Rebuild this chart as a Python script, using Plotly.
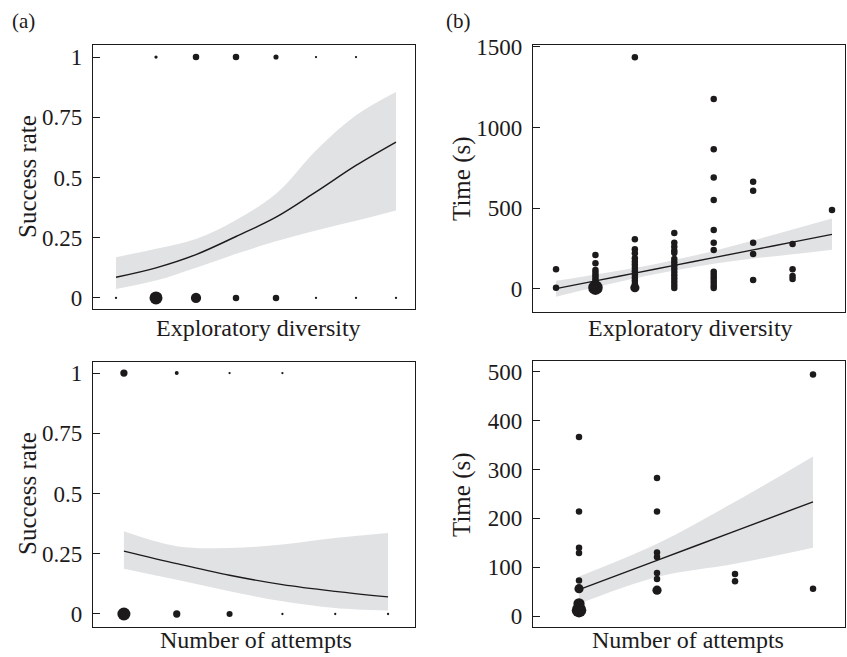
import numpy as np
import plotly.graph_objects as go
from plotly.subplots import make_subplots

# ---------------- data ----------------
# (a) top: success vs exploratory diversity
div_levels = [1, 2, 3, 4, 5, 6, 7, 8]
div_n_success = [0, 2, 8, 8, 5, 1, 1, 0]
div_n_fail = [1, 32, 20, 8, 8, 1, 1, 1]
div_fit = [0.086, 0.125, 0.18, 0.255, 0.335, 0.44, 0.55, 0.647]
div_lo = [0.037, 0.072, 0.125, 0.183, 0.235, 0.28, 0.32, 0.363]
div_hi = [0.169, 0.204, 0.245, 0.324, 0.432, 0.612, 0.758, 0.855]

# (a) bottom: success vs number of attempts
att_levels = [1, 2, 3, 4, 5, 6]
att_n_success = [10, 3, 1, 1, 0, 0]
att_n_fail = [32, 10, 7, 1, 1, 1]
att_fit = [0.261, 0.209, 0.161, 0.122, 0.094, 0.071]
att_lo = [0.188, 0.142, 0.094, 0.053, 0.025, 0.014]
att_hi = [0.343, 0.281, 0.274, 0.288, 0.315, 0.336]

# (b) top: time vs exploratory diversity  (x, time, n overlapping)
time_div_x = ([1, 1] +
              [2] * 10 +
              [3] * 14 +
              [4] * 15 +
              [5] * 14 +
              [6] * 5 +
              [7] * 4 +
              [8])
time_div_t = ([122, 8] +
              [211, 159, 118, 100, 85, 70, 55, 40, 28, 8] +
              [1436, 308, 246, 221, 190, 169, 150, 130, 110, 90, 70, 50, 30, 8] +
              [347, 287, 262, 236, 223, 185, 165, 145, 125, 105, 85, 65, 45, 25, 5] +
              [1178, 866, 690, 552, 366, 287, 242, 107, 90, 72, 55, 38, 20, 5] +
              [665, 609, 287, 217, 56] +
              [279, 122, 80, 62] +
              [490])
time_div_n = ([1, 1] +
              [1, 1, 1, 1, 1, 1, 1, 1, 1, 5] +
              [1] * 13 + [2] +
              [1] * 15 +
              [1] * 14 +
              [1] * 5 +
              [1] * 4 +
              [1])
time_div_levels = [1, 2, 3, 4, 5, 6, 7, 8]
time_div_fit = [2, 50, 98, 146, 194, 242, 290, 338]
time_div_lo = [-48, 10, 66, 114, 156, 188, 215, 243]
time_div_hi = [50, 90, 130, 180, 235, 300, 368, 436]

# (b) bottom: time vs number of attempts
time_att_x = [1, 1, 1, 1, 1, 1, 1, 1,
              2, 2, 2, 2, 2, 2, 2,
              3, 3,
              4, 4]
time_att_t = [367, 214, 140, 129, 73, 56, 25, 12,
              283, 214, 130, 121, 88, 76, 53,
              86, 71,
              495, 56]
time_att_n = [1, 1, 1, 1, 1, 2, 3, 5,
              1, 1, 1, 1, 1, 1, 2,
              1, 1,
              1, 1]
time_att_levels = [1, 2, 3, 4]
time_att_fit = [54, 114, 174, 234]
time_att_lo = [25, 80, 107, 140]
time_att_hi = [81, 148, 234, 327]

# ---------------- style ----------------
FONT = "Liberation Serif"
INK = "#1d1a1b"
BAND = "#e1e2e4"

fig = make_subplots(rows=2, cols=2)


def add_band(x, lo, hi, fit, row, col, shape):
    fig.add_trace(go.Scatter(x=x, y=lo, mode="lines", line=dict(width=0, shape=shape),
                             hoverinfo="skip", showlegend=False), row=row, col=col)
    fig.add_trace(go.Scatter(x=x, y=hi, mode="lines", line=dict(width=0, shape=shape),
                             fill="tonexty", fillcolor=BAND,
                             hoverinfo="skip", showlegend=False), row=row, col=col)
    fig.add_trace(go.Scatter(x=x, y=fit, mode="lines", line=dict(color=INK, width=1.4, shape=shape),
                             showlegend=False), row=row, col=col)


def add_counts(levels, n_s, n_f, row, col):
    xs, ys, ss = [], [], []
    for xv, n in zip(levels, n_s):
        if n > 0:
            xs.append(xv); ys.append(1); ss.append(2.3 * np.sqrt(n))
    for xv, n in zip(levels, n_f):
        if n > 0:
            xs.append(xv); ys.append(0); ss.append(2.3 * np.sqrt(n))
    fig.add_trace(go.Scatter(x=xs, y=ys, mode="markers",
                             marker=dict(color=INK, size=ss, opacity=1, line=dict(width=0)),
                             showlegend=False), row=row, col=col)


def add_points(x, t, n, row, col):
    fig.add_trace(go.Scatter(x=x, y=t, mode="markers",
                             marker=dict(color=INK, size=[6.5 * np.sqrt(k) for k in n],
                                         opacity=1, line=dict(width=0)),
                             showlegend=False), row=row, col=col)


add_band(div_levels, div_lo, div_hi, div_fit, 1, 1, "spline")
add_counts(div_levels, div_n_success, div_n_fail, 1, 1)

add_band(time_div_levels, time_div_lo, time_div_hi, time_div_fit, 1, 2, "spline")
add_points(time_div_x, time_div_t, time_div_n, 1, 2)

add_band(att_levels, att_lo, att_hi, att_fit, 2, 1, "spline")
add_counts(att_levels, att_n_success, att_n_fail, 2, 1)

add_band(time_att_levels, time_att_lo, time_att_hi, time_att_fit, 2, 2, "spline")
add_points(time_att_x, time_att_t, time_att_n, 2, 2)

W, H = 847, 657

def px_x(a, b):
    return [a / W, b / W]

def px_y(top, bottom):
    return [1 - bottom / H, 1 - top / H]

axis_common = dict(showline=True, mirror=True, linecolor=INK, linewidth=1.3,
                   showgrid=False, zeroline=False, fixedrange=True, automargin=False)
xaxis_style = dict(axis_common, showticklabels=False, ticks="")
yaxis_style = dict(axis_common, ticks="inside", ticklen=7, tickwidth=1.2, tickcolor=INK,
                   tickfont=dict(family=FONT, size=23, color=INK), ticklabelstandoff=5)

fig.update_layout(
    xaxis=dict(xaxis_style, domain=px_x(93, 415), range=[0.425, 8.475]),
    yaxis=dict(yaxis_style, domain=px_y(45, 309), range=[-0.046, 1.05],
               tickvals=[0, 0.25, 0.5, 0.75, 1], ticktext=["0", "0.25", "0.5", "0.75", "1"]),
    xaxis2=dict(xaxis_style, domain=px_x(533, 845), range=[0.416, 8.33]),
    yaxis2=dict(yaxis_style, domain=px_y(45, 312), range=[-143, 1512],
                tickvals=[0, 500, 1000, 1500]),
    xaxis3=dict(xaxis_style, domain=px_x(93, 415), range=[0.415, 6.51]),
    yaxis3=dict(yaxis_style, domain=px_y(362, 627), range=[-0.054, 1.046],
                tickvals=[0, 0.25, 0.5, 0.75, 1], ticktext=["0", "0.25", "0.5", "0.75", "1"]),
    xaxis4=dict(xaxis_style, domain=px_x(533, 845), range=[0.41, 4.41]),
    yaxis4=dict(yaxis_style, domain=px_y(361, 627), range=[-22.5, 522.5],
                tickvals=[0, 100, 200, 300, 400, 500]),
    width=W, height=H,
    margin=dict(l=0, r=0, t=0, b=0, pad=0, autoexpand=False),
    paper_bgcolor="white", plot_bgcolor="white",
    font=dict(family=FONT, color=INK),
    showlegend=False,
)

def ann(text, x, y, size=24, angle=0, xanchor="center"):
    fig.add_annotation(text=text, x=x / W, y=1 - y / H, xref="paper", yref="paper",
                       showarrow=False, textangle=angle, xanchor=xanchor, yanchor="middle",
                       font=dict(family=FONT, size=size, color=INK))

ann("(a)", 10, 21, size=21, xanchor="left")
ann("(b)", 444, 21, size=21, xanchor="left")
ann("Success rate", 27, 177, size=25, angle=-90)
ann("Success rate", 27, 494, size=25, angle=-90)
ann("Time (s)", 462, 178, size=25, angle=-90)
ann("Time (s)", 462, 494, size=25, angle=-90)
ann("Exploratory diversity", 258, 328)
ann("Exploratory diversity", 690, 328)
ann("Number of attempts", 256, 640)
ann("Number of attempts", 688, 640)

fig.write_html("out.html")
